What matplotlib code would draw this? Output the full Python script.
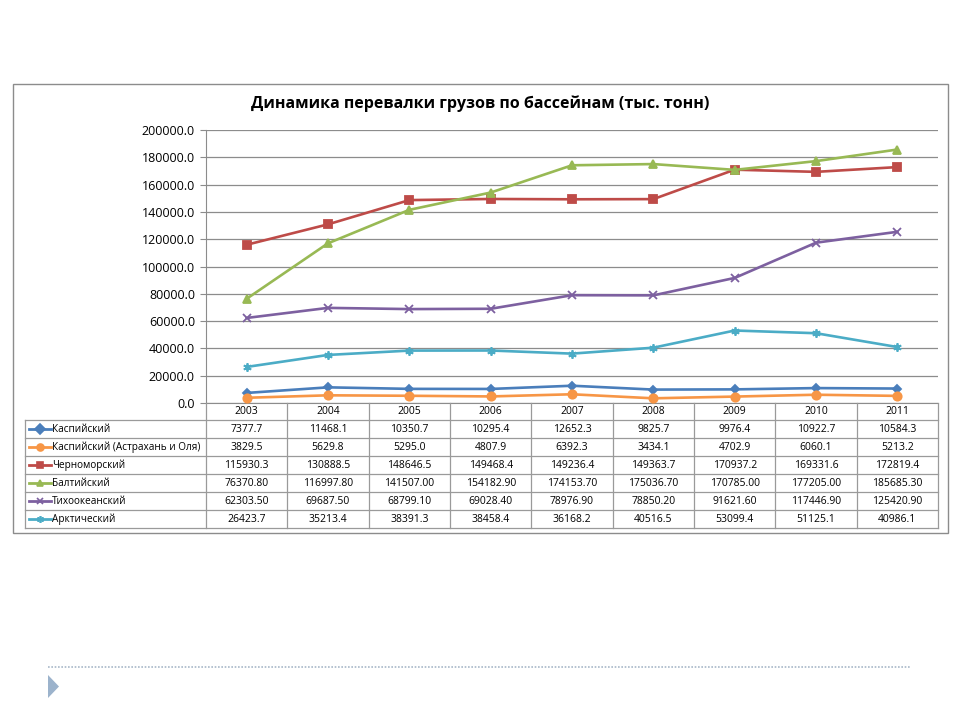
import matplotlib.pyplot as plt
from matplotlib.lines import Line2D
from matplotlib.patches import Rectangle, Polygon
import numpy as np

plt.rcParams['font.family'] = ['Open Sans', 'DejaVu Sans']

years = ['2003', '2004', '2005', '2006', '2007', '2008', '2009', '2010', '2011']
names = ['Каспийский', 'Каспийский (Астрахань и Оля)', 'Черноморский',
         'Балтийский', 'Тихоокеанский', 'Арктический']
caspian = [7377.7, 11468.1, 10350.7, 10295.4, 12652.3, 9825.7, 9976.4, 10922.7, 10584.3]
caspian_ao = [3829.5, 5629.8, 5295.0, 4807.9, 6392.3, 3434.1, 4702.9, 6060.1, 5213.2]
black_sea = [115930.3, 130888.5, 148646.5, 149468.4, 149236.4, 149363.7, 170937.2, 169331.6, 172819.4]
baltic = [76370.80, 116997.80, 141507.00, 154182.90, 174153.70, 175036.70, 170785.00, 177205.00, 185685.30]
pacific = [62303.50, 69687.50, 68799.10, 69028.40, 78976.90, 78850.20, 91621.60, 117446.90, 125420.90]
arctic = [26423.7, 35213.4, 38391.3, 38458.4, 36168.2, 40516.5, 53099.4, 51125.1, 40986.1]
# text as printed in the table (Baltic / Pacific have 2 decimals)
decimals = [1, 1, 1, 2, 2, 1]

series = [caspian, caspian_ao, black_sea, baltic, pacific, arctic]
colors = ['#4A7EBB', '#F79646', '#BE4B48', '#98B954', '#7D60A0', '#4BACC6']
markers = ['D', 'o', 's', '^', 'x', (6, 2, 0)]
msizes = [4, 6, 6, 6, 6, 6]

W, H = 960, 720
fig = plt.figure(figsize=(9.6, 7.2), dpi=100)

def fx(x):
    return x / W

def fy(y):
    return 1 - y / H

def hline(x0, x1, y, **kw):
    fig.add_artist(Line2D([fx(x0), fx(x1)], [fy(y), fy(y)], transform=fig.transFigure, **kw))

def vline(x, y0, y1, **kw):
    fig.add_artist(Line2D([fx(x), fx(x)], [fy(y0), fy(y1)], transform=fig.transFigure, **kw))

# outer frame
fig.add_artist(Rectangle((fx(13), fy(533)), fx(948) - fx(13), fy(84) - fy(533),
                         transform=fig.transFigure, fill=False, edgecolor='#8c8c8c', lw=1))

fig.text(fx(480), fy(104), 'Динамика перевалки грузов по бассейнам (тыс. тонн)',
         ha='center', va='center', fontsize=11.5, fontweight='bold')

L, R, T, B = 206, 938, 130, 403
ax = fig.add_axes([fx(L), fy(B), fx(R) - fx(L), fy(T) - fy(B)])
x = np.arange(len(years))
for s, c, m, ms in zip(series, colors, markers, msizes):
    ax.plot(x, s, color=c, lw=1.9, marker=m, markersize=ms, markeredgewidth=1.3,
            markerfacecolor=c, markeredgecolor=c, zorder=3)

ax.set_xlim(-0.5, len(years) - 0.5)
ax.set_ylim(0, 200000)
ax.set_yticks(np.arange(0, 200001, 20000))
ax.set_yticklabels(['%.1f' % v for v in np.arange(0, 200001, 20000)], fontsize=9)
ax.yaxis.grid(True, color='#8c8c8c', lw=0.9)
ax.set_axisbelow(True)
ax.set_xticks([])
ax.tick_params(axis='y', length=4, color='#8c8c8c', pad=4)
for sp in ['top', 'right']:
    ax.spines[sp].set_visible(False)
ax.spines['left'].set_color('#8c8c8c')
ax.spines['bottom'].set_color('#8c8c8c')

# data table
col_w = (R - L) / len(years)
row_top = 420
row_h = 18
tbl_bottom = row_top + row_h * len(names)
lc = '#9a9a9a'
for k in range(len(years) + 1):
    vline(L + k * col_w, B, tbl_bottom, color=lc, lw=0.9)
vline(25, row_top, tbl_bottom, color=lc, lw=0.9)
for i in range(len(names) + 1):
    hline(25, R, row_top + i * row_h, color=lc, lw=0.9)
for k, yr in enumerate(years):
    fig.text(fx(L + (k + 0.5) * col_w), fy(412), yr, ha='center', va='center', fontsize=7.5)
for i, (nm, s, c, m, d) in enumerate(zip(names, series, colors, markers, decimals)):
    yc = row_top + (i + 0.5) * row_h
    fig.add_artist(Line2D([fx(29), fx(51)], [fy(yc), fy(yc)], transform=fig.transFigure,
                          color=c, lw=2))
    fig.add_artist(Line2D([fx(40)], [fy(yc)], transform=fig.transFigure, color=c,
                          marker=m, markersize=5, markeredgewidth=1.2, markerfacecolor=c,
                          markeredgecolor=c))
    fig.text(fx(52), fy(yc), nm, ha='left', va='center', fontsize=7.2)
    for k, v in enumerate(s):
        fig.text(fx(L + (k + 0.5) * col_w), fy(yc), '%.*f' % (d, v),
                 ha='center', va='center', fontsize=7.5)

# slide decoration
hline(48, 910, 667, color='#a8b8c8', lw=1.2, linestyle=(0, (1, 1)))
fig.add_artist(Polygon([[fx(48), fy(675)], [fx(48), fy(698)], [fx(59), fy(686.5)]],
                       closed=True, transform=fig.transFigure, facecolor='#9CB3CC',
                       edgecolor='none'))

fig.savefig('out.png', dpi=100)
